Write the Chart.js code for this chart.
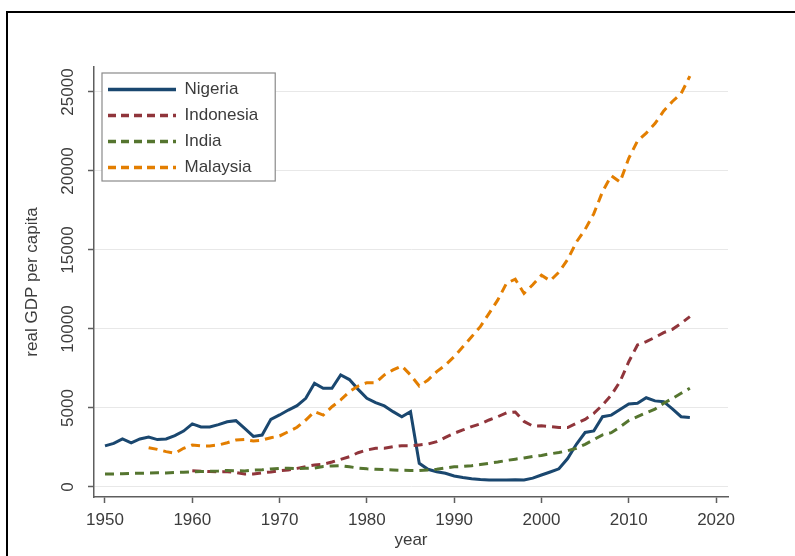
<!DOCTYPE html>
<html>
<head>
<meta charset="utf-8">
<script src="https://cdn.jsdelivr.net/npm/chart.js@4.4.1/dist/chart.umd.min.js"></script>
<style>
  html, body { margin: 0; padding: 0; background: #fff; }
  #wrap { position: relative; width: 795px; height: 556px; overflow: hidden; }
  #frame { position: absolute; left: 6px; top: 11px; width: 800px; height: 560px;
           border-top: 2px solid #000; border-left: 2px solid #000; box-sizing: border-box; }
  #gdpChart { position: absolute; left: 0; top: 0; }
</style>
</head>
<body>
<div id="wrap">
  <div id="frame"></div>
  <canvas id="gdpChart" width="795" height="556"></canvas>
</div>
<script>
// years 1950..2017
const years = [];
for (let y = 1950; y <= 2017; y++) years.push(y);

const nigeria = [
  2600, 2760, 3040, 2800, 3040, 3160, 3000, 3040, 3250, 3540,
  3990, 3800, 3800, 3950, 4130, 4200, 3710, 3200, 3290, 4280,
  4560, 4870, 5150, 5610, 6560, 6250, 6250, 7090, 6800, 6180,
  5610, 5340, 5130, 4770, 4450, 4770, 1500, 1120, 970, 870,
  700, 600, 520, 470, 450, 440, 440, 460, 450, 560,
  760, 950, 1150, 1800, 2700, 3450, 3550, 4450, 4550, 4900,
  5250, 5300, 5650, 5450, 5400, 4950, 4450, 4400
];
const indonesia = [
  null, null, null, null, null, null, null, null, null, null,
  1030, 1000, 980, 950, 970, 920, 820, 830, 900, 950,
  1030, 1080, 1180, 1290, 1390, 1440, 1580, 1750, 1920, 2170,
  2340, 2450, 2450, 2550, 2610, 2610, 2660, 2720, 2870, 3140,
  3400, 3610, 3820, 3990, 4240, 4450, 4700, 4750, 4150, 3860,
  3870, 3820, 3760, 3760, 4030, 4280, 4660, 5190, 5820, 6670,
  7930, 8990, 9200, 9470, 9770, 9980, 10360, 10780
];
const india = [
  820, 830, 840, 860, 870, 880, 900, 890, 920, 930,
  960, 980, 990, 1010, 1050, 1030, 1020, 1070, 1090, 1140,
  1180, 1180, 1160, 1180, 1200, 1300, 1330, 1350, 1280, 1200,
  1150, 1120, 1100, 1080, 1060, 1050, 1050, 1080, 1120, 1200,
  1280, 1300, 1350, 1420, 1500, 1580, 1680, 1760, 1840, 1930,
  2000, 2100, 2180, 2300, 2450, 2700, 3000, 3300, 3440, 3800,
  4200, 4450, 4700, 4920, 5300, 5600, 5930, 6250
];
const malaysia = [
  null, null, null, null, null, 2490, 2380, 2240, 2130, 2450,
  2660, 2600, 2600, 2660, 2800, 2970, 3010, 2910, 2970, 3120,
  3230, 3500, 3780, 4240, 4770, 4550, 5080, 5510, 6030, 6390,
  6600, 6600, 7090, 7410, 7660, 7090, 6390, 6770, 7300, 7720,
  8250, 8880, 9510, 10150, 10990, 11840, 12900, 13150, 12250, 12800,
  13400, 13050, 13600, 14400, 15500, 16300, 17300, 18700, 19700, 19300,
  20800, 21900, 22400, 23000, 23800, 24400, 24900, 26000
];

const xTicks = [1950, 1960, 1970, 1980, 1990, 2000, 2010, 2020];
const yTicks = [0, 5000, 10000, 15000, 20000, 25000];

const FONT = { family: "'Liberation Sans', Arial, sans-serif", size: 17 };
const TEXT = "#3c3c3c";
const AXIS = "#5e5e5e";

// legend sits inside the plot with a white box and grey frame, like Stata
const legendBox = {
  id: "legendBox",
  afterLayout(chart) {
    const lg = chart.legend;
    lg.left = chart.chartArea.left + 5;
    lg.top = chart.chartArea.top + 5;
    lg.bottom = chart.chartArea.bottom;
  },
  afterDraw(chart) {
    const lg = chart.legend;
    const hb = lg.legendHitBoxes;
    if (!hb || !hb.length) return;
    const l = Math.min(...hb.map(h => h.left)) - 6;
    const t = Math.min(...hb.map(h => h.top)) - 8;
    const r = Math.max(...hb.map(h => h.left + h.width)) + 17;
    const b = Math.max(...hb.map(h => h.top + h.height)) + 5;
    const ctx = chart.ctx;
    ctx.save();
    ctx.fillStyle = "#fff";
    ctx.fillRect(l, t, r - l, b - t);
    ctx.strokeStyle = "#8a8a8a";
    ctx.lineWidth = 1.2;
    ctx.strokeRect(l, t, r - l, b - t);
    ctx.restore();
    lg.draw();
  }
};

function series(label, data, color, dash, order) {
  return {
    label: label,
    data: data,
    borderColor: color,
    backgroundColor: color,
    borderWidth: 3,
    borderDash: dash,
    pointRadius: 0,
    tension: 0,
    spanGaps: false,
    order: order
  };
}

new Chart(document.getElementById("gdpChart"), {
  type: "line",
  data: {
    labels: years,
    datasets: [
      series("Nigeria", nigeria, "#1a476f", [], 4),
      series("Indonesia", indonesia, "#90353b", [9, 6], 3),
      series("India", india, "#55752f", [9, 6], 2),
      series("Malaysia", malaysia, "#e37e00", [9, 6], 1)
    ]
  },
  options: {
    responsive: false,
    animation: false,
    devicePixelRatio: 1,
    layout: { padding: { top: 67, right: 67, left: 0, bottom: 0 } },
    plugins: {
      tooltip: { enabled: false },
      legend: {
        position: "chartArea",
        align: "start",
        labels: {
          usePointStyle: true,
          pointStyle: "line",
          pointStyleWidth: 68,
          padding: 9,
          color: TEXT,
          font: FONT,
          sort: (a, b) => a.datasetIndex - b.datasetIndex,
          generateLabels: chart => {
            const items = Chart.defaults.plugins.legend.labels.generateLabels(chart);
            items.forEach(it => {
              const ds = chart.data.datasets[it.datasetIndex];
              it.strokeStyle = ds.borderColor;
              it.lineWidth = 3.5;
              it.lineDash = ds.borderDash.length ? [8, 5] : [];
            });
            return items;
          }
        }
      }
    },
    scales: {
      x: {
        type: "linear",
        min: 1948.74,
        max: 2021.37,
        afterBuildTicks: s => { s.ticks = xTicks.map(v => ({ value: v })); },
        afterFit: s => { s.height = 59; },
        grid: { drawOnChartArea: false, tickLength: 6, tickColor: AXIS, tickWidth: 1.5 },
        border: { color: AXIS, width: 1.5 },
        ticks: { font: FONT, color: TEXT, padding: 7, maxRotation: 0, autoSkip: false,
                 callback: v => String(v) },
        title: { display: true, text: "year", font: FONT, color: TEXT, padding: { top: 0, bottom: 5 } }
      },
      y: {
        min: -633,
        max: 26582,
        afterBuildTicks: s => { s.ticks = yTicks.map(v => ({ value: v })); },
        afterFit: s => { s.width = 94; },
        grid: { color: "#e8e8e8", lineWidth: 1, tickLength: 6, tickColor: AXIS, tickWidth: 1.5 },
        border: { color: AXIS, width: 1.5 },
        ticks: { font: FONT, color: TEXT, minRotation: 90, maxRotation: 90, crossAlign: "center",
                 padding: -4, autoSkip: false, callback: v => String(v) },
        title: { display: true, text: "real GDP per capita", font: FONT, color: TEXT,
                 padding: { top: 22, bottom: 0 } }
      }
    }
  },
  plugins: [legendBox]
});
</script>
</body>
</html>
